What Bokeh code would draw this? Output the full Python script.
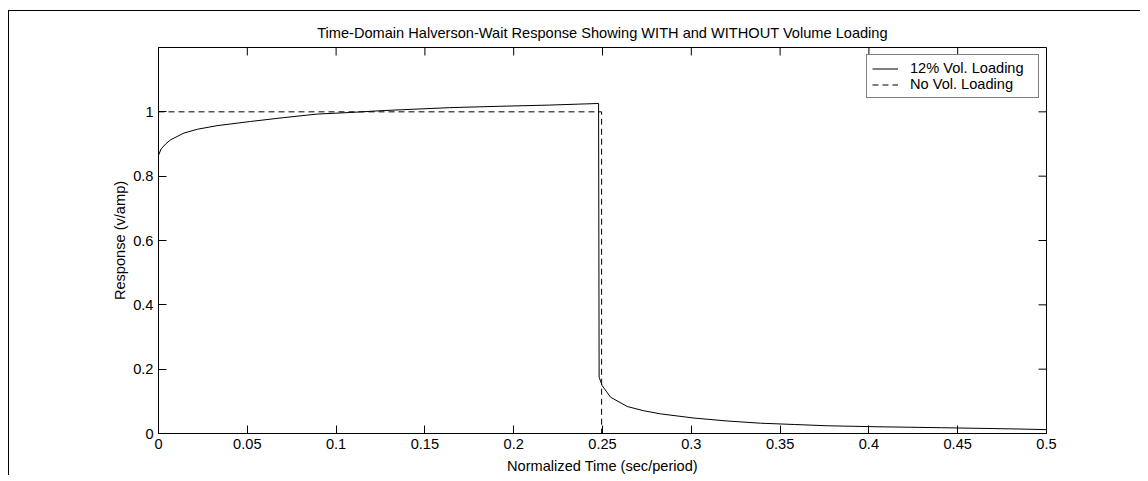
import math
from bokeh.plotting import figure
from bokeh.models import Range1d, FixedTicker, NumeralTickFormatter, Legend, LegendItem
from bokeh.embed import file_html
from bokeh.resources import INLINE

# ---- data ----
t_loaded = [0.0, 0.0015, 0.004, 0.0068, 0.0143, 0.022, 0.033, 0.0518, 0.0705, 0.0893,
            0.108, 0.127, 0.164, 0.19, 0.22, 0.2478, 0.2481, 0.2498, 0.2545, 0.2639,
            0.273, 0.2827, 0.3015, 0.320, 0.339, 0.358, 0.3765, 0.404, 0.441, 0.484, 0.5]
y_loaded = [0.865, 0.885, 0.900, 0.913, 0.934, 0.946, 0.957, 0.970, 0.982, 0.993,
            0.998, 1.004, 1.013, 1.017, 1.021, 1.026, 0.175, 0.149, 0.113, 0.084,
            0.071, 0.061, 0.048, 0.039, 0.032, 0.028, 0.024, 0.021, 0.018, 0.014, 0.012]

t_unloaded = [0.0, 0.2495, 0.2495, 0.5]
y_unloaded = [1.0, 1.0, 0.0, 0.0]

x_ticks = [0, 0.05, 0.1, 0.15, 0.2, 0.25, 0.3, 0.35, 0.4, 0.45, 0.5]
y_ticks = [0, 0.2, 0.4, 0.6, 0.8, 1.0]

title_text = "Time-Domain Halverson-Wait Response Showing WITH and WITHOUT Volume Loading"
x_label = "Normalized Time (sec/period)"
y_label = "Response (v/amp)"
series_names = ["12% Vol. Loading", "No Vol. Loading"]

X_MAX = 0.5
Y_MAX = 1.2
FONT = "Liberation Sans"
FS = "14.6px"

p = figure(width=1132, height=465, output_backend="svg", toolbar_location=None,
           x_range=Range1d(0, X_MAX), y_range=Range1d(0, Y_MAX),
           min_border_left=149, min_border_right=95, min_border_top=36, min_border_bottom=43,
           title=title_text,
           styles={"border-top": "1px solid black", "border-left": "1px solid black",
                   "margin-top": "10px", "margin-left": "8px"})

p.background_fill_color = "white"
p.border_fill_color = "white"
p.outline_line_color = "black"
p.outline_line_width = 1
p.grid.visible = False

p.title.text_font = FONT
p.title.text_font_size = FS
p.title.text_font_style = "normal"
p.title.text_color = "black"
p.title.align = "center"
p.title.standoff = 13

for ax, ticks, fmt in ((p.xaxis[0], x_ticks, "0.[00]"), (p.yaxis[0], y_ticks, "0.[0]")):
    ax.ticker = FixedTicker(ticks=ticks)
    ax.formatter = NumeralTickFormatter(format=fmt)
    ax.major_tick_in = 8
    ax.major_tick_out = 0
    ax.minor_tick_line_color = None
    ax.axis_line_color = "black"
    ax.major_tick_line_color = "black"
    ax.major_label_text_font = FONT
    ax.major_label_text_font_size = FS
    ax.major_label_text_color = "black"
    ax.major_label_standoff = 5
    ax.axis_label_text_font = FONT
    ax.axis_label_text_font_size = FS
    ax.axis_label_text_font_style = "normal"
    ax.axis_label_text_color = "black"
    ax.axis_label_standoff = 6
p.yaxis[0].axis_label_standoff = 2
p.xaxis[0].axis_label = x_label
p.yaxis[0].axis_label = y_label

# mirrored inward ticks on the top and right edges (half of each dash is clipped by the frame)
p.scatter(x_ticks, [Y_MAX] * len(x_ticks), marker="dash", size=16, angle=math.pi / 2,
          line_color="black", line_width=1)
p.scatter([X_MAX] * len(y_ticks), y_ticks, marker="dash", size=16, angle=0,
          line_color="black", line_width=1)

r1 = p.line(t_loaded, y_loaded, line_color="black", line_width=1)
r2 = p.line(t_unloaded, y_unloaded, line_color="black", line_width=1, line_dash="6 4")

legend = Legend(items=[LegendItem(label=series_names[0], renderers=[r1]),
                       LegendItem(label=series_names[1], renderers=[r2])],
                location="top_right")
legend.label_text_font = FONT
legend.label_text_font_size = FS
legend.label_text_color = "black"
legend.border_line_color = "black"
legend.border_line_width = 1
legend.background_fill_alpha = 1
legend.margin = 7
legend.padding = 5
legend.spacing = 0
legend.glyph_width = 26
legend.glyph_height = 15
legend.label_height = 15
legend.label_width = 123
legend.label_standoff = 12
p.add_layout(legend)

open("out.html", "w").write(file_html(p, INLINE))
